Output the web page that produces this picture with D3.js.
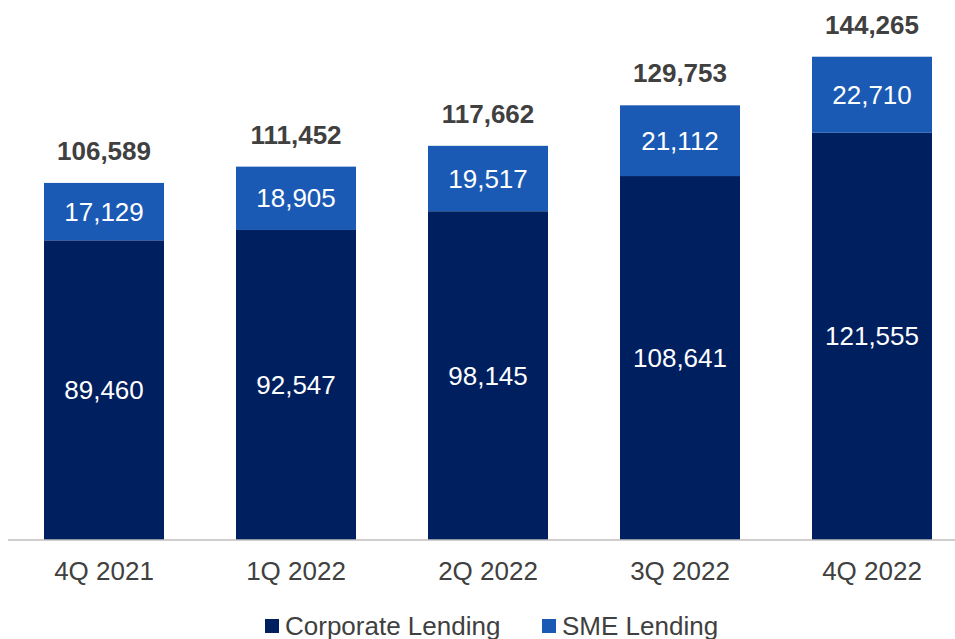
<!DOCTYPE html>
<html>
<head>
<meta charset="utf-8">
<script src="https://cdn.jsdelivr.net/npm/d3@7"></script>
<style>
  html, body { margin: 0; padding: 0; background: #fff; }
  svg { display: block; font-family: "Liberation Sans", Arial, sans-serif; }
</style>
</head>
<body>
<svg id="chart" width="955" height="639"></svg>
<script>
// Quarterly lending balances
const quarters = ["4Q 2021", "1Q 2022", "2Q 2022", "3Q 2022", "4Q 2022"];
const corporateLending = [89460, 92547, 98145, 108641, 121555];
const smeLending = [17129, 18905, 19517, 21112, 22710];
const totals = [106589, 111452, 117662, 129753, 144265];
const seriesNames = ["Corporate Lending", "SME Lending"];
const seriesColors = ["#001F5F", "#1B5AB4"];

const svg = d3.select("#chart");
const baseline = 540;

const x = d3.scaleBand()
  .domain(quarters)
  .range([8, 968])
  .paddingInner(0.375)
  .paddingOuter(0.1875);

const y = d3.scaleLinear()
  .domain([0, 160000])
  .range([baseline, 4]);

const rows = quarters.map((q, i) => ({
  quarter: q,
  "Corporate Lending": corporateLending[i],
  "SME Lending": smeLending[i],
  total: totals[i]
}));

const stacked = d3.stack().keys(seriesNames)(rows);
const fmt = d3.format(",");

const layers = svg.append("g")
  .selectAll("g")
  .data(stacked)
  .join("g")
  .attr("fill", (d, i) => seriesColors[i]);

layers.selectAll("rect")
  .data(d => d)
  .join("rect")
  .attr("x", d => x(d.data.quarter))
  .attr("width", x.bandwidth())
  .attr("y", d => y(d[1]))
  .attr("height", d => y(d[0]) - y(d[1]));

// Segment value labels
layers.selectAll("text")
  .data((d, i) => d.map(v => ({ v, key: seriesNames[i] })))
  .join("text")
  .attr("x", d => x(d.v.data.quarter) + x.bandwidth() / 2)
  .attr("y", d => (y(d.v[0]) + y(d.v[1])) / 2)
  .attr("dy", "0.35em")
  .attr("text-anchor", "middle")
  .attr("fill", "#fff")
  .attr("font-size", 26)
  .text(d => fmt(d.v.data[d.key]));

// Total labels above each bar
svg.append("g")
  .selectAll("text")
  .data(rows)
  .join("text")
  .attr("x", d => x(d.quarter) + x.bandwidth() / 2)
  .attr("y", d => y(d.total) - 23)
  .attr("text-anchor", "middle")
  .attr("fill", "#404040")
  .attr("font-size", 26)
  .attr("font-weight", "bold")
  .text(d => fmt(d.total));

// Category axis
const axis = svg.append("g")
  .attr("transform", `translate(0,${baseline})`)
  .call(d3.axisBottom(x).tickSize(0).tickPadding(22));
axis.select(".domain").remove();
axis.append("line")
  .attr("x1", 8).attr("x2", 955)
  .attr("stroke", "#BFBFBF").attr("stroke-width", 1.5);
axis.selectAll(".tick text")
  .attr("font-size", 26)
  .attr("fill", "#404040")
  .attr("font-family", "Liberation Sans, Arial, sans-serif");

// Legend
const legendItems = [
  { name: seriesNames[0], color: seriesColors[0], x: 265 },
  { name: seriesNames[1], color: seriesColors[1], x: 542 }
];
const legend = svg.append("g");
const li = legend.selectAll("g")
  .data(legendItems)
  .join("g")
  .attr("transform", d => `translate(${d.x},626)`);
li.append("rect")
  .attr("x", 0).attr("y", -7)
  .attr("width", 14).attr("height", 14)
  .attr("fill", d => d.color);
li.append("text")
  .attr("x", 20)
  .attr("dy", "0.35em")
  .attr("font-size", 26)
  .attr("fill", "#404040")
  .text(d => d.name);
</script>
</body>
</html>
